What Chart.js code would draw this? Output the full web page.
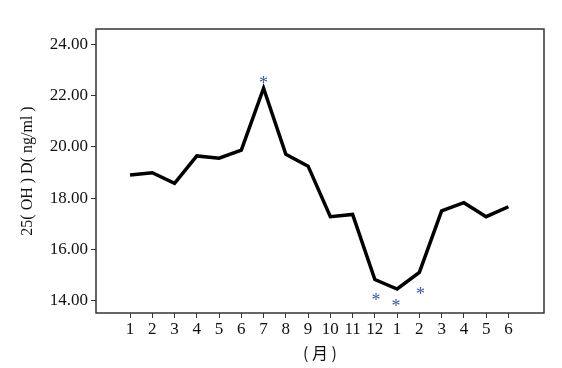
<!DOCTYPE html>
<html lang="zh">
<head>
    <meta charset="UTF-8">
    <title>25(OH)D</title>
    <script src="https://cdn.jsdelivr.net/npm/chart.js"></script>
    <style>
        html, body { margin: 0; padding: 0; background: #fff; }
        #wrap { width: 562px; height: 368px; }
    </style>
</head>
<body>
    <div id="wrap"><canvas id="chart" width="562" height="368"></canvas></div>
    <script>
        // month labels, one year plus half
        const months = ['1', '2', '3', '4', '5', '6', '7', '8', '9', '10', '11', '12', '1', '2', '3', '4', '5', '6'];
        const vitD = [18.90, 18.99, 18.58, 19.65, 19.56, 19.88, 22.30, 19.71, 19.25, 17.27, 17.36, 14.81, 14.44, 15.09, 17.50, 17.82, 17.27, 17.66];
        const yTicks = [14, 16, 18, 20, 22, 24];
        // significance marks (index, value where the * sits)
        const starX = [6, 11.05, 11.95, 13.05];
        const starY = [22.62, 14.1, 13.9, 14.37];

        const serif = "'Liberation Serif', 'DejaVu Serif', serif";

        const framePlugin = {
            id: 'frame',
            afterDatasetsDraw(chart) {
                const { ctx, chartArea: a, scales } = chart;
                ctx.save();
                ctx.strokeStyle = '#333';
                ctx.lineWidth = 1.5;
                ctx.strokeRect(a.left, a.top, a.right - a.left, a.bottom - a.top);
                ctx.fillStyle = '#3b5b9b';
                ctx.font = "18px " + serif;
                ctx.textAlign = 'center';
                ctx.textBaseline = 'middle';
                for (let i = 0; i < starX.length; i++) {
                    ctx.fillText('*', scales.x.getPixelForValue(starX[i]), scales.y.getPixelForValue(starY[i]) + 4);
                }
                ctx.restore();
            }
        };

        const ctx = document.getElementById('chart').getContext('2d');
        new Chart(ctx, {
            type: 'line',
            data: {
                datasets: [{
                    data: vitD.map((v, i) => ({ x: i, y: v })),
                    borderColor: '#000',
                    borderWidth: 3.5,
                    pointRadius: 0,
                    tension: 0,
                    fill: false
                }]
            },
            plugins: [framePlugin],
            options: {
                responsive: false,
                animation: false,
                events: [],
                layout: { padding: { top: 29, right: 18, left: 0, bottom: 0 } },
                plugins: { legend: { display: false }, tooltip: { enabled: false } },
                scales: {
                    x: {
                        type: 'linear',
                        min: -1.53,
                        max: 18.6,
                        afterBuildTicks: s => { s.ticks = months.map((m, i) => ({ value: i })); },
                        afterFit: s => { s.height = 55; },
                        ticks: {
                            callback: (v, i) => months[i],
                            autoSkip: false,
                            maxRotation: 0,
                            color: '#111',
                            font: { family: serif, size: 17 },
                            padding: 1
                        },
                        grid: { drawOnChartArea: false, drawTicks: true, tickLength: 5, color: '#333', lineWidth: 1 },
                        border: { display: false },
                        title: {
                            display: true,
                            text: '( 月 )',
                            color: '#111',
                            font: { family: "'Noto Sans CJK SC', serif", size: 16 },
                            padding: { top: 0, bottom: 5 }
                        }
                    },
                    y: {
                        min: 13.5,
                        max: 24.62,
                        afterBuildTicks: s => { s.ticks = yTicks.map(v => ({ value: v })); },
                        afterFit: s => { s.width = 96; },
                        ticks: {
                            callback: v => v.toFixed(2),
                            color: '#111',
                            font: { family: serif, size: 17 },
                            padding: 3
                        },
                        grid: { drawOnChartArea: false, drawTicks: true, tickLength: 5, color: '#333', lineWidth: 1 },
                        border: { display: false },
                        title: {
                            display: true,
                            text: '25( OH ) D( ng/ml )',
                            color: '#111',
                            font: { family: serif, size: 16 },
                            padding: { top: 18, bottom: 0 }
                        }
                    }
                }
            }
        });
    </script>
</body>
</html>
